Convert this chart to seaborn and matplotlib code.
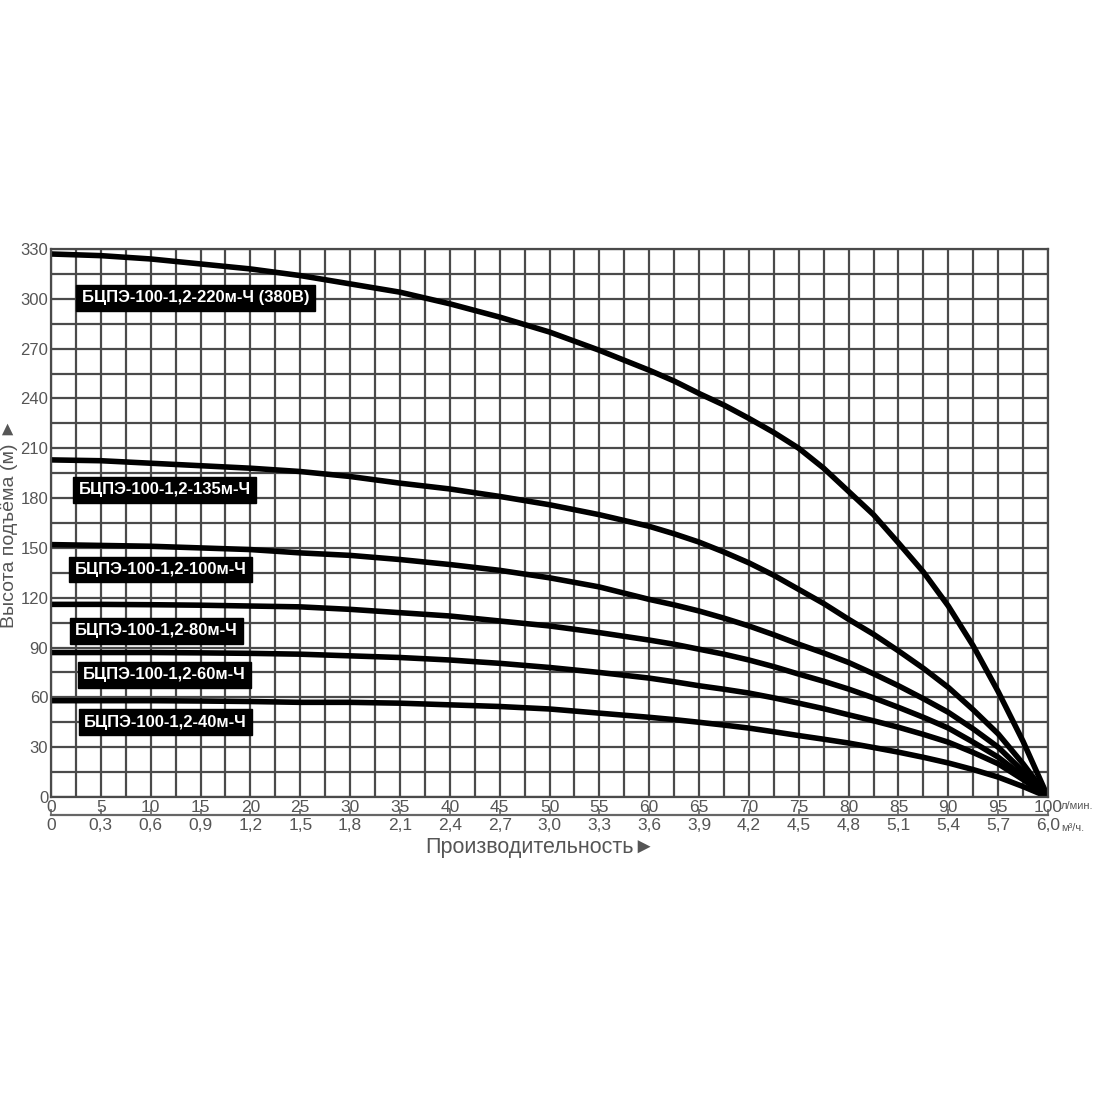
import matplotlib
matplotlib.use("Agg")
import matplotlib.pyplot as plt
import matplotlib.ticker as mticker
import numpy as np
import pandas as pd
import seaborn as sns

flow = [0, 5, 10, 15, 20, 25, 30, 35, 40, 45, 50, 55, 60, 62.5, 65, 67.5, 70, 72.5, 75,
        77.5, 80, 82.5, 85, 87.5, 90, 92.5, 95, 97.5, 100]

head_220 = [327, 326, 324, 321, 318, 314, 309, 304, 297, 289, 280, 269, 257, 250.5, 243, 236, 228,
            219.5, 210, 198, 184, 170, 153, 135.5, 115, 91, 63.5, 33.5, 0]
head_135 = [203, 202.5, 201, 199.5, 198, 196, 193, 189, 185.5, 181, 176, 170, 163, 158.5, 153.5,
            147.5, 141, 133.5, 125, 116.5, 107, 98, 88, 77.5, 66, 52.5, 38, 20, 0]
head_100 = [152, 151.5, 151, 150, 149, 147, 145.5, 143, 140, 136.5, 132, 126.5, 119, 115.7, 112,
            107.7, 103, 97.7, 92, 86.7, 81, 74.2, 67, 59.2, 51, 41, 30, 15.5, 0]
head_80 = [116, 116, 115.8, 115.5, 115, 114.5, 113, 111, 109, 106, 103, 99, 94.5, 92, 89, 86,
           82.5, 78.5, 74, 69.7, 65, 59.7, 54, 48, 41.5, 33, 24, 12.5, 0]
head_60 = [87, 87, 87, 86.8, 86.5, 86, 85, 84, 82.5, 80.5, 78, 75, 71.6, 69.4, 67, 64.9, 62.6,
           59.7, 56.5, 53.2, 49.5, 45.9, 42, 37.7, 33, 26.8, 20, 10.5, 0]
head_40 = [58, 58, 58, 57.8, 57.5, 57, 57, 56.5, 55.5, 54.5, 53, 50.5, 48, 46.6, 45, 43.3, 41.5,
           39.3, 37, 34.8, 32.5, 29.8, 27, 23.9, 20.5, 16.5, 12, 6.3, 0]

series_names = ["БЦПЭ-100-1,2-220м-Ч (380В)", "БЦПЭ-100-1,2-135м-Ч", "БЦПЭ-100-1,2-100м-Ч",
                "БЦПЭ-100-1,2-80м-Ч", "БЦПЭ-100-1,2-60м-Ч", "БЦПЭ-100-1,2-40м-Ч"]
series_values = [head_220, head_135, head_100, head_80, head_60, head_40]

# label anchor positions (flow, head)
label_x = [14.5, 11.4, 11.0, 10.6, 11.4, 11.5]
label_y = [300.5, 185, 137, 100, 73.5, 45]

x_ticks = list(range(0, 101, 5))
y_ticks = list(range(0, 331, 30))
m3_ticks = [round(0.3 * i, 1) for i in range(21)]

sns.set_theme(style="white")
plt.rcParams['font.family'] = ['Liberation Sans', 'DejaVu Sans']

rows = []
for name, vals in zip(series_names, series_values):
    for f, h in zip(flow, vals):
        rows.append({"flow": f, "head": h, "model": name})
df = pd.DataFrame(rows)

fig = plt.figure(figsize=(11, 11), dpi=100)
ax = fig.add_axes([51 / 1100, 1 - 797 / 1100, 997 / 1100, 548 / 1100])

grid_c = "#4a4a4a"
ax.set_xlim(0, 100)
ax.set_ylim(0, 330)
ax.xaxis.set_major_locator(mticker.FixedLocator(x_ticks))
ax.xaxis.set_minor_locator(mticker.MultipleLocator(2.5))
ax.yaxis.set_major_locator(mticker.FixedLocator(y_ticks))
ax.yaxis.set_minor_locator(mticker.MultipleLocator(15))
ax.grid(True, which="both", color=grid_c, linewidth=1.6)
ax.set_axisbelow(True)
for s in ax.spines.values():
    s.set_color(grid_c)
    s.set_linewidth(1.6)

sns.lineplot(data=df, x="flow", y="head", hue="model", palette=["black"] * 6,
             linewidth=4.0, legend=False, ax=ax, solid_capstyle="round", solid_joinstyle="round")

ax.tick_params(axis="both", which="both", length=0, labelsize=12.5, labelcolor="#555555")
ax.tick_params(axis="x", pad=2)
ax.tick_params(axis="y", pad=2, labelsize=12)
ax.set_xticklabels([str(v) for v in x_ticks])
ax.set_yticklabels([str(v) for v in y_ticks])
ax.set_xlabel("")
ax.set_ylabel("Высота подъёма (м) ►", fontsize=14, color="#555555")
ax.yaxis.set_label_coords(-0.0335, 0.5)

# secondary axis in m3/h
sec = ax.secondary_xaxis(-0.033, functions=(lambda x: x * 0.06, lambda x: x / 0.06))
sec.xaxis.set_major_locator(mticker.FixedLocator(m3_ticks))
sec.xaxis.set_major_formatter(mticker.FuncFormatter(
    lambda v, p: "0" if abs(v) < 1e-9 else f"{v:.1f}".replace(".", ",")))
sec.tick_params(axis="x", direction="in", length=4, width=1.2, color="#666666",
                labelsize=12.5, labelcolor="#555555", pad=2)
sec.spines["bottom"].set_color("#666666")
sec.spines["bottom"].set_linewidth(1.6)

ax.text(101.3, -5.5, "л/мин.", transform=ax.transData, fontsize=8, color="#555555",
        ha="left", va="center", clip_on=False)
ax.text(101.3, -18.5, "м³/ч.", transform=ax.transData, fontsize=8, color="#555555",
        ha="left", va="center", clip_on=False)

fig.text(540 / 1100, 1 - 848 / 1100, "Производительность►", fontsize=15.5, color="#555555",
         ha="center", va="center")

for name, lx, ly in zip(series_names, label_x, label_y):
    ax.text(lx, ly, name, fontsize=12, fontweight="bold", color="white", ha="center",
            va="center", zorder=5,
            bbox=dict(boxstyle="square,pad=0.32", facecolor="black", edgecolor="black"))

fig.savefig("out.png", dpi=100, facecolor="white")
